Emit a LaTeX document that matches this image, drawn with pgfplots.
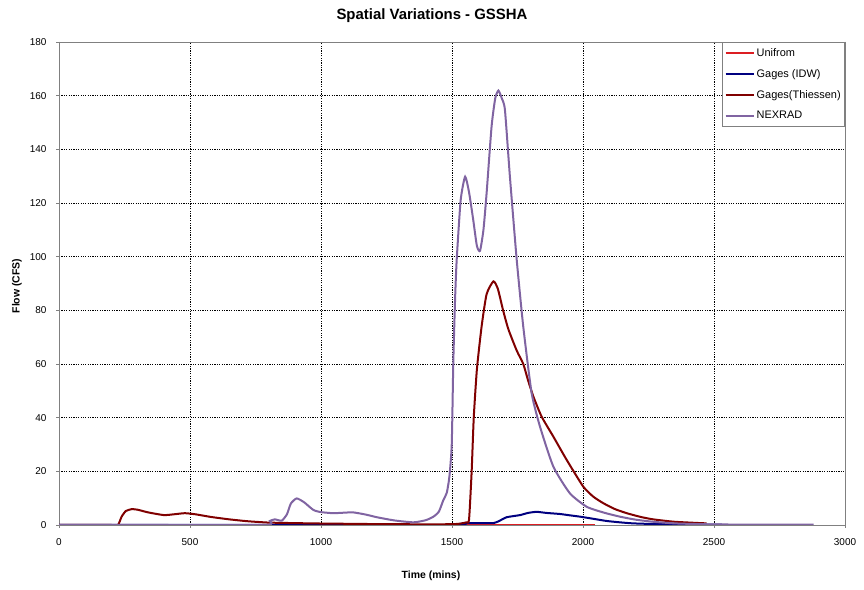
\documentclass[border=0pt]{standalone}
\usepackage{pgfplots}
\pgfplotsset{compat=1.18}
\usepackage{fontspec}
\setmainfont{Liberation Sans}
\definecolor{cUni}{RGB}{220,30,35}
\definecolor{cIDW}{RGB}{0,0,128}
\definecolor{cThi}{RGB}{128,0,0}
\definecolor{cNex}{RGB}{128,100,162}
\definecolor{axgray}{RGB}{128,128,128}
\begin{document}
\begin{tikzpicture}[x=1bp,y=1bp]
\useasboundingbox (0,0) rectangle (864,590);
\fill[white] (0,0) rectangle (864,590);
\node[font=\bfseries\fontsize{15}{17}\selectfont] at (432,574) {Spatial Variations - GSSHA};
\node[font=\bfseries\fontsize{10.5}{12}\selectfont] at (431,14) {Time (mins)};
\node[font=\bfseries\fontsize{10.5}{12}\selectfont, rotate=90] at (17,304) {Flow (CFS)};
\begin{axis}[
  at={(59bp,65bp)}, anchor=south west,
  scale only axis, width=786bp, height=483bp,
  xmin=0, xmax=3000, ymin=0, ymax=180,
  xtick={0,500,...,3000}, ytick={0,20,...,180},
  axis line style={axgray, line width=0.8pt},
  tick style={axgray, line width=0.6pt},
  tick align=outside, major tick length=3bp,
  xtick pos=bottom, ytick pos=left,
  grid=major,
  major grid style={black, line width=0.5pt, dash pattern=on 1.2pt off 1.2pt},
  /pgf/number format/assume math mode=true,
  /pgf/number format/1000 sep={},
  xticklabel style={yshift=-7bp, font=\fontsize{10}{12}\selectfont},
  yticklabel style={xshift=-6bp, font=\fontsize{10}{12}\selectfont},
  legend style={at={(1,1)}, anchor=north east, draw=axgray, line width=0.6pt,
    font=\fontsize{11}{13}\selectfont, row sep=7.5bp, inner xsep=2bp, inner ysep=4bp,
    legend cell align=left, fill=white},
  legend image code/.code={\draw[#1] (0bp,0bp) -- (28bp,0bp);},
  every axis plot/.append style={line width=2bp},
]
\addlegendimage{cUni, line width=2bp}
\addlegendentry{Unifrom}
\addlegendimage{cIDW, line width=2bp}
\addlegendentry{Gages (IDW)}
\addlegendimage{cThi, line width=2bp}
\addlegendentry{Gages(Thiessen)}
\addlegendimage{cNex, line width=2bp}
\addlegendentry{NEXRAD}
\addplot[cUni, forget plot] coordinates {(0,0) (2045,0)};
\addplot[cIDW, smooth, tension=0.35, forget plot] coordinates {(0,0) (1000,0) (1520,0) (1540,0.5) (1560,0.7) (1600,0.7) (1658,0.7) (1680,1.5) (1709,2.9) (1760,3.7) (1790,4.5) (1823,4.9) (1860,4.5) (1912,4.1) (1950,3.6) (1989,3.1) (2040,2.3) (2090,1.5) (2140,1.0) (2192,0.6) (2300,0.3) (2530,0.1)};
\addplot[cThi, smooth, tension=0.35, forget plot] coordinates {(0,0) (100,0) (200,0) (225,0) (239,3.1) (255,5.2) (277,5.9) (300,5.7) (340,4.7) (400,3.7) (440,4.0) (480,4.4) (520,4.0) (580,3.0) (650,2.1) (720,1.4) (800,0.9) (900,0.7) (1000,0.55) (1100,0.45) (1200,0.35) (1300,0.3) (1400,0.25) (1500,0.3) (1530,0.5) (1555,1.0) (1565,2) (1575,20) (1583,40) (1595,58) (1613,74) (1632,86) (1658,90.8) (1675,88) (1695,80) (1715,73) (1747,65) (1772,60) (1790,54) (1810,48) (1842,40.4) (1887,32.9) (1938,24.2) (2001,14.3) (2040,10.5) (2078,8.1) (2120,6) (2167,4.4) (2220,3.0) (2268,2.1) (2350,1.2) (2472,0.6)};
\addplot[cNex, smooth, tension=0.35, forget plot] coordinates {(0,0) (400,0) (790,0) (805,1.5) (824,2.1) (850,1.6) (870,4) (885,8) (907,9.9) (935,8.5) (971,5.6) (1000,4.8) (1047,4.4) (1090,4.6) (1123,4.7) (1170,3.9) (1213,2.9) (1280,1.7) (1353,1.0) (1400,1.8) (1429,3.1) (1450,5) (1467,9.3) (1480,12) (1490,18) (1499,30) (1505,61) (1512,85) (1518,99) (1533,121) (1550,129.8) (1565,124) (1581,113.7) (1595,104) (1607,102.2) (1620,110) (1632,123.6) (1651,148.5) (1665,159) (1677,161.9) (1690,159) (1702,154.7) (1721,129.8) (1747,98.8) (1772,73.9) (1804,49.1) (1836,36.6) (1887,21.7) (1950,11.8) (2014,6.8) (2080,4.6) (2141,3.1) (2200,2.0) (2268,1.2) (2350,0.6) (2458,0.3) (2600,0.15) (2880,0.1)};
\end{axis}
\end{tikzpicture}
\end{document}
